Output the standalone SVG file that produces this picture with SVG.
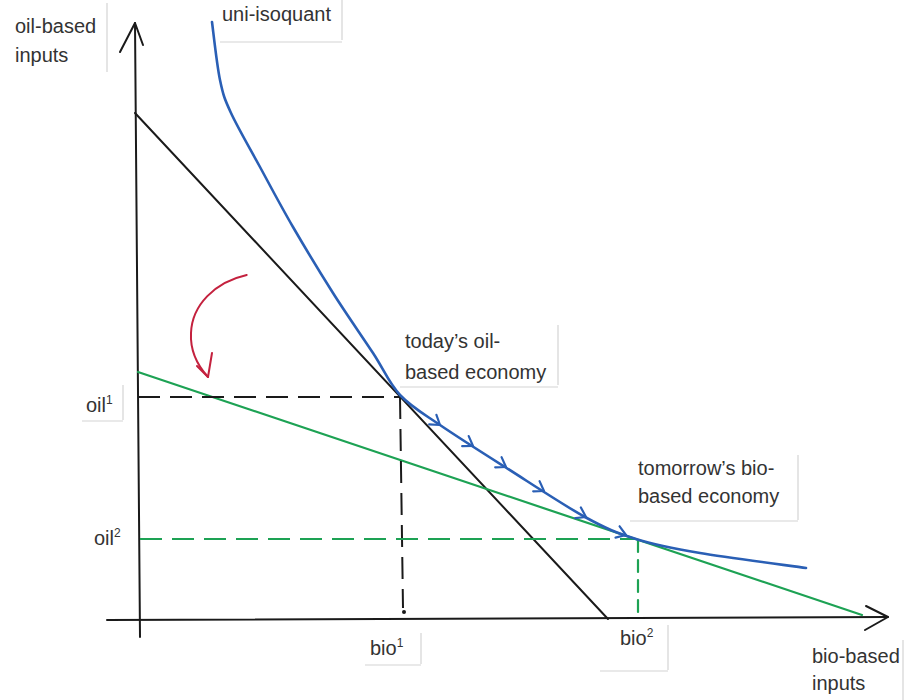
<svg xmlns="http://www.w3.org/2000/svg" width="912" height="700" viewBox="0 0 912 700">
<style>
  .lbl { font-family: "Liberation Sans", Arial, sans-serif; font-size: 20px; fill: #333; }
  .sup { font-size: 12px; }
  .ax { stroke: #1a1a1a; stroke-width: 2; fill: none; stroke-linecap: round; stroke-linejoin: round; }
  .blk { stroke: #1a1a1a; stroke-width: 2; fill: none; stroke-linecap: round; }
  .grn { stroke: #1da254; stroke-width: 2.2; fill: none; stroke-linecap: round; }
  .blu { stroke: #2a5fb5; stroke-width: 2.6; fill: none; stroke-linecap: round; stroke-linejoin: round; }
  .dashk { stroke: #1a1a1a; stroke-width: 2; fill: none; stroke-dasharray: 22 10; }
  .dashg { stroke: #1da254; stroke-width: 2; fill: none; stroke-dasharray: 22 10; }
  .red { stroke: #c4213e; stroke-width: 2; fill: none; stroke-linecap: round; stroke-linejoin: round; }
  .box { stroke: #d4d4d4; stroke-width: 1.2; fill: none; }
</style>
<defs>
  <path id="chev" d="M-9,-6 L0,0 L-9,6" stroke="#2a5fb5" stroke-width="2.2" fill="none" stroke-linecap="round" stroke-linejoin="round"/>
</defs>
<rect width="912" height="700" fill="#ffffff"/>

<g id="label-boxes">
  <path class="box" d="M107,3 V72"/>
  <path class="box" d="M342,0 V40 M220,42 H342"/>
  <path class="box" d="M558,325 V385 M400,387 H558"/>
  <path class="box" d="M798,455 V520 M630,521 H798"/>
  <path class="box" d="M123,385 V420 M82,421 H123"/>
  <path class="box" d="M421,633 V664 M365,665 H421"/>
  <path class="box" d="M668,625 V670 M600,671 H668"/>
  <path class="box" d="M903,640 V700"/>
</g>

<g id="connectors">
  <!-- axes -->
  <g id="y-axis">
    <path class="ax" d="M135,23 L140,637"/>
    <path class="ax" d="M120,52 L135,23 L143,45"/>
  </g>
  <g id="x-axis">
    <path class="ax" d="M107,620 L888,617"/>
    <path class="ax" d="M866,606 L888,617 L865,630"/>
  </g>
  <!-- budget lines -->
  <path id="oil-line" class="blk" d="M135,113 L608,619"/>
  <path id="bio-line" class="grn" d="M138,372 L862,615"/>
  <!-- dashed guides -->
  <path class="dashk" d="M138,397 H400"/>
  <path class="dashk" d="M400,397 L403,608"/>
  <circle cx="404" cy="612" r="2" fill="#1a1a1a"/>
  <path class="dashg" d="M140,539 H636"/>
  <path class="grn" stroke-dasharray="12 8" d="M638,540 V618"/>
  <!-- isoquant -->
  <path id="isoquant" class="blu" d="M212,22 C213.3,31.7 216.8,64.8 220,80 C223.2,95.2 224.3,98.5 231,113 C237.7,127.5 249.7,148 260,167 C270.3,186 280.8,206 293,227 C305.2,248 319.7,272 333,293 C346.3,314 361.8,336 373,353 C384.2,370 388.8,383 400,395 C411.2,407 422.5,413 440,425 C457.5,437 480.8,451.7 505,467 C529.2,482.3 563.2,505 585,517 C606.8,529 616.8,533 636,539 C655.2,545 671.7,548.2 700,553 C728.3,557.8 788.3,565.5 806,568"/>
  <g id="path-arrows">
    <use href="#chev" transform="translate(440,425) rotate(37)"/>
    <use href="#chev" transform="translate(473,446) rotate(33)"/>
    <use href="#chev" transform="translate(506,467) rotate(32)"/>
    <use href="#chev" transform="translate(544,491) rotate(32)"/>
    <use href="#chev" transform="translate(586,517) rotate(28)"/>
    <use href="#chev" transform="translate(626,535) rotate(20)"/>
  </g>
  <!-- red rotation arrow -->
  <g id="rotation-arrow">
    <path class="red" d="M246.7,275 C215,282 192,305 191,333 C190,352 198,366 208,377"/>
    <path class="red" d="M197,366 L208,377 L212,353"/>
  </g>
</g>

<g id="node-y-label"><text class="lbl" x="15" y="33">oil-based</text><text class="lbl" x="15" y="62">inputs</text></g>
<g id="node-isoquant-label"><text class="lbl" x="222" y="21">uni-isoquant</text></g>
<g id="node-today"><text class="lbl" x="405" y="348">today’s oil-</text><text class="lbl" x="405" y="379">based economy</text></g>
<g id="node-tomorrow"><text class="lbl" x="638" y="475">tomorrow’s bio-</text><text class="lbl" x="638" y="503">based economy</text></g>
<g id="node-oil1"><text class="lbl" x="86" y="412">oil<tspan class="sup" dy="-8">1</tspan></text></g>
<g id="node-oil2"><text class="lbl" x="94" y="545">oil<tspan class="sup" dy="-8">2</tspan></text></g>
<g id="node-bio1"><text class="lbl" x="370" y="655">bio<tspan class="sup" dy="-8">1</tspan></text></g>
<g id="node-bio2"><text class="lbl" x="620" y="645">bio<tspan class="sup" dy="-8">2</tspan></text></g>
<g id="node-x-label"><text class="lbl" x="812" y="663">bio-based</text><text class="lbl" x="812" y="690">inputs</text></g>
</svg>
